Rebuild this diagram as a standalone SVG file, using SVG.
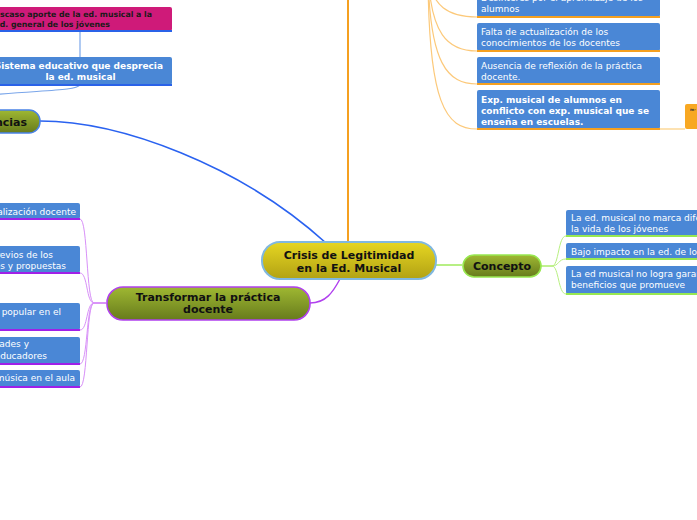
<svg xmlns="http://www.w3.org/2000/svg" width="697" height="520" viewBox="0 0 697 520">
<defs>
<linearGradient id="gy" x1="0" y1="0" x2="0" y2="1"><stop offset="0" stop-color="#e6d622"/><stop offset="1" stop-color="#b2a214"/></linearGradient>
<linearGradient id="gg" x1="0" y1="0" x2="0" y2="1"><stop offset="0" stop-color="#9fb832"/><stop offset="1" stop-color="#677b1c"/></linearGradient>
</defs>
<style>
.t{font-family:"DejaVu Sans",Verdana,sans-serif;font-size:9px;fill:#ffffff}
.tb{font-family:"DejaVu Sans",Verdana,sans-serif;font-size:9px;font-weight:bold;fill:#ffffff}
.tm{font-family:"DejaVu Sans",Verdana,sans-serif;font-size:7.8px;font-weight:bold;fill:#1a1a1a}
.tc{font-family:"DejaVu Sans",Verdana,sans-serif;font-size:11px;font-weight:bold;fill:#111111;text-anchor:middle}
.blue{fill:#4a87d6}
.c{fill:none}
</style>
<rect width="697" height="520" fill="#ffffff"/>
<g id="connectors" class="c">
<path d="M348,241 L348,-10" stroke="#f5a020" stroke-width="2"/>
<path d="M428,-30 C430,8 450,17 477,17" stroke="#fcc97a" stroke-width="1.2"/>
<path d="M428,-30 C430,35 448,51 477,51" stroke="#fcc97a" stroke-width="1.2"/>
<path d="M428,-30 C429,65 448,84 477,84" stroke="#fcc97a" stroke-width="1.2"/>
<path d="M428,-30 C428,105 446,129 477,129" stroke="#fcc97a" stroke-width="1.2"/>
<path d="M660,129 L685,129" stroke="#fcd898" stroke-width="1.5"/>
<path d="M80,31 L80,57" stroke="#7aa6ea" stroke-width="1.2"/>
<path d="M80,85 C76,91 40,90 -20,96" stroke="#7aa6ea" stroke-width="1.2"/>
<path d="M40,121 C120,121 240,165 326,243" stroke="#2a62f0" stroke-width="1.6"/>
<path d="M310,303 C326,303 333,292 340,279" stroke="#b040ee" stroke-width="1.4"/>
<path d="M436,265 L462,265" stroke="#98e850" stroke-width="1.4"/>
<path d="M106,303 L94,303 C86,303 88,219 80,219" stroke="#d890f8" stroke-width="1"/>
<path d="M106,303 L94,303 C86,303 88,273 80,273" stroke="#d890f8" stroke-width="1"/>
<path d="M106,303 L94,303 C86,303 88,330 80,330" stroke="#d890f8" stroke-width="1"/>
<path d="M106,303 L94,303 C86,303 88,364 80,364" stroke="#d890f8" stroke-width="1"/>
<path d="M106,303 L94,303 C86,303 88,387 80,387" stroke="#d890f8" stroke-width="1"/>
<path d="M541,266 L552,266 C559,266 558,236 566,236" stroke="#b8f080" stroke-width="1"/>
<path d="M541,266 L552,266 C559,266 558,259 566,259" stroke="#b8f080" stroke-width="1"/>
<path d="M541,266 L552,266 C559,266 558,294 566,294" stroke="#b8f080" stroke-width="1"/>
</g>
<g id="central">
<rect x="262" y="242" width="174" height="37" rx="18" fill="url(#gy)" stroke="#80b8e0" stroke-width="2"/>
<text class="tc" x="349" y="259">Crisis de Legitimidad</text>
<text class="tc" x="349" y="272">en la Ed. Musical</text>
</g>
<g id="n-desinteres">
<rect class="blue" x="477" y="-20" width="183" height="37" rx="2"/>
<line x1="477" y1="17" x2="660" y2="17" stroke="#f5a020" stroke-width="2"/>
<text class="t" x="481" y="1">Desinterés por el aprendizaje de los</text>
<text class="t" x="481" y="12">alumnos</text>
</g>
<g id="n-falta">
<rect class="blue" x="477" y="23" width="183" height="28" rx="2"/>
<line x1="477" y1="51" x2="660" y2="51" stroke="#f5a020" stroke-width="2"/>
<text class="t" x="481" y="35">Falta de actualización de los</text>
<text class="t" x="481" y="46">conocimientos de los docentes</text>
</g>
<g id="n-ausencia">
<rect class="blue" x="477" y="57" width="183" height="27" rx="2"/>
<line x1="477" y1="84" x2="660" y2="84" stroke="#f5a020" stroke-width="2"/>
<text class="t" x="481" y="68.5">Ausencia de reflexión de la práctica</text>
<text class="t" x="481" y="79.5">docente.</text>
</g>
<g id="n-exp">
<rect class="blue" x="477" y="90" width="183" height="39" rx="2"/>
<line x1="477" y1="129" x2="660" y2="129" stroke="#f5a020" stroke-width="2"/>
<text class="tb" x="481" y="103">Exp. musical de alumnos en</text>
<text class="tb" x="481" y="114">conflicto con exp. musical que se</text>
<text class="tb" x="481" y="125">enseña en escuelas.</text>
</g>
<g id="n-orange">
<rect x="685" y="104" width="30" height="25" rx="2" fill="#f8a822"/>
<text x="690" y="111" font-family="DejaVu Sans,sans-serif" font-size="4" font-weight="bold" fill="#333333">m-</text>
</g>
<g id="n-escaso">
<rect x="-10" y="7" width="182" height="24" rx="2" fill="#cf1a79"/>
<line x1="-10" y1="31" x2="172" y2="31" stroke="#2a62e8" stroke-width="2"/>
<text class="tm" x="152" y="17" text-anchor="end">Escaso aporte de la ed. musical a la</text>
<text class="tm" x="110" y="27" text-anchor="end">Ed. general de los jóvenes</text>
</g>
<g id="n-sistema">
<rect class="blue" x="-10" y="57" width="182" height="28" rx="2"/>
<line x1="-10" y1="85" x2="172" y2="85" stroke="#2a62e8" stroke-width="2"/>
<text class="tb" x="163" y="69" text-anchor="end">Sistema educativo que desprecia</text>
<text class="tb" x="80.5" y="80" text-anchor="middle">la ed. musical</text>
</g>
<g id="n-consecuencias">
<rect x="-60" y="110" width="100" height="23" rx="11" fill="url(#gg)" stroke="#4a82e6" stroke-width="1.5"/>
<text class="tc" x="27" y="126" style="text-anchor:end">Consecuencias</text>
</g>
<g id="n-transformar">
<rect x="107" y="287" width="203" height="33" rx="16" fill="url(#gg)" stroke="#b040ee" stroke-width="1.6"/>
<text class="tc" x="208" y="301">Transformar la práctica</text>
<text class="tc" x="208" y="313">docente</text>
</g>
<g id="n-actualizacion">
<rect class="blue" x="-60" y="203" width="140" height="16" rx="2"/>
<line x1="-60" y1="219" x2="80" y2="219" stroke="#a020e8" stroke-width="2"/>
<text class="t" x="76" y="215" text-anchor="end">Actualización docente</text>
</g>
<g id="n-previos">
<rect class="blue" x="-60" y="246" width="140" height="27" rx="2"/>
<line x1="-60" y1="273" x2="80" y2="273" stroke="#a020e8" stroke-width="2"/>
<text class="t" x="53" y="258" text-anchor="end">Saberes previos de los</text>
<text class="t" x="66" y="269" text-anchor="end">alumnos y propuestas</text>
</g>
<g id="n-popular">
<rect class="blue" x="-60" y="303" width="140" height="27" rx="2"/>
<line x1="-60" y1="330" x2="80" y2="330" stroke="#a020e8" stroke-width="2"/>
<text class="t" x="61" y="315" text-anchor="end">Incluir la música popular en el</text>
</g>
<g id="n-educadores">
<rect class="blue" x="-60" y="337" width="140" height="27" rx="2"/>
<line x1="-60" y1="364" x2="80" y2="364" stroke="#a020e8" stroke-width="2"/>
<text class="t" x="29" y="347" text-anchor="end">Necesidades y</text>
<text class="t" x="47" y="359" text-anchor="end">educadores</text>
</g>
<g id="n-aula">
<rect class="blue" x="-60" y="370" width="140" height="17" rx="2"/>
<line x1="-60" y1="387" x2="80" y2="387" stroke="#a020e8" stroke-width="2"/>
<text class="t" x="75" y="381" text-anchor="end">La música en el aula</text>
</g>
<g id="n-concepto">
<rect x="463" y="255" width="78" height="22" rx="11" fill="url(#gg)" stroke="#98e850" stroke-width="1.6"/>
<text class="tc" x="502" y="270">Concepto</text>
</g>
<g id="n-marca">
<rect class="blue" x="566" y="210" width="160" height="26" rx="2"/>
<line x1="566" y1="236" x2="726" y2="236" stroke="#98e850" stroke-width="2"/>
<text class="t" x="571" y="221">La ed. musical no marca diferencia en</text>
<text class="t" x="571" y="232">la vida de los jóvenes</text>
</g>
<g id="n-impacto">
<rect class="blue" x="566" y="243" width="160" height="16" rx="2"/>
<line x1="566" y1="259" x2="726" y2="259" stroke="#98e850" stroke-width="2"/>
<text class="t" x="571" y="255">Bajo impacto en la ed. de los jóvenes</text>
</g>
<g id="n-garantizar">
<rect class="blue" x="566" y="266" width="160" height="28" rx="2"/>
<line x1="566" y1="294" x2="726" y2="294" stroke="#98e850" stroke-width="2"/>
<text class="t" x="571" y="277">La ed musical no logra garantizar los</text>
<text class="t" x="571" y="288">beneficios que promueve</text>
</g>
</svg>
